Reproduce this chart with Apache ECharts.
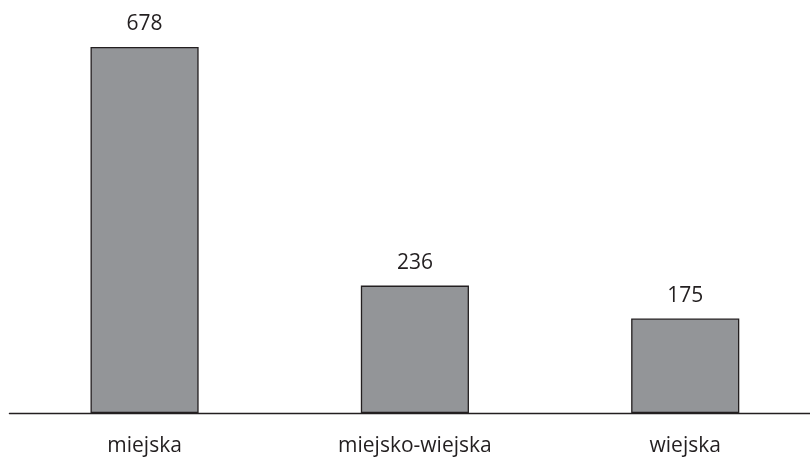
<!DOCTYPE html>
<html><head><meta charset="utf-8">
<script src="https://cdn.jsdelivr.net/npm/echarts@6/dist/echarts.min.js"></script>
<style>html,body{margin:0;padding:0;background:#fff}#c{width:810px;height:458px}</style>
</head><body><div id="c"></div>
<script>
const categories = ['miejska', 'miejsko-wiejska', 'wiejska'];
const values = [678, 236, 175];

const chart = echarts.init(document.getElementById('c'), null, {renderer: 'canvas'});
chart.setOption({
  animation: false,
  grid: {left: 9.4, width: 811, top: 0, height: 413, outerBoundsMode: 'none', containLabel: false},
  xAxis: {
    type: 'category', data: categories,
    axisLine: {lineStyle: {color: '#231f20', width: 1.3}},
    axisTick: {show: false},
    axisLabel: {color: '#231f20', fontFamily: 'Open Sans', fontSize: 21, margin: 23}
  },
  yAxis: {type: 'value', min: 0, max: 765, show: false},
  series: [{
    type: 'bar', data: values, barWidth: '40%',
    itemStyle: {color: '#939598', borderColor: '#231f20', borderWidth: 1.3},
    label: {show: true, position: 'top', distance: 12, color: '#231f20', fontFamily: 'Open Sans', fontSize: 21}
  }]
});
</script></body></html>
